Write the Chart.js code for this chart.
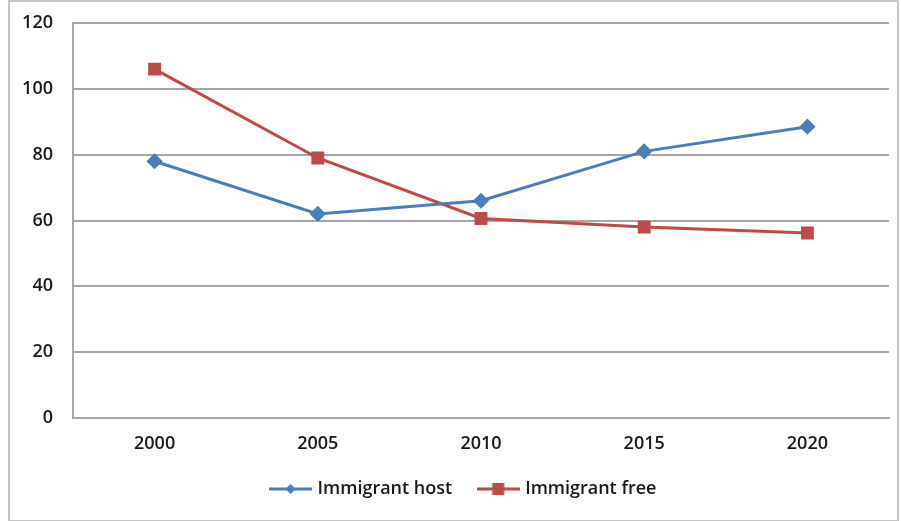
<!DOCTYPE html>
<html>
<head>
<meta charset="utf-8">
<script src="https://cdn.jsdelivr.net/npm/chart.js@4"></script>
<style>
  html, body { margin: 0; padding: 0; background: #fff; }
  #wrap { position: absolute; left: 0; top: 0; width: 901px; height: 521px; }
  #frame { position: absolute; left: 8px; top: 0px; width: 887px; height: 518px; border: 2px solid #c4c4c4; box-sizing: content-box; pointer-events: none; }
</style>
</head>
<body>
<div id="wrap">
  <canvas id="chart" width="901" height="521"></canvas>
  <div id="frame"></div>
</div>
<script>
var years = ["2000", "2005", "2010", "2015", "2020"];
var hostValues = [78, 62, 66, 81, 88.5];
var freeValues = [106, 79, 60.6, 58, 56.2];
var yTicks = [0, 20, 40, 60, 80, 100, 120];

var blue = "#4a7ebb";
var red = "#be4b48";
var textColor = "#1a1a1a";
var gridColor = "#a6a6a6";
var tickFont = { family: "'Open Sans', sans-serif", size: 18, weight: "600" };

// small line-with-marker icon for the legend
function legendIcon(color, shape) {
    var c = document.createElement("canvas");
    c.width = 43;
    c.height = 14;
    var ctx = c.getContext("2d");
    ctx.strokeStyle = color;
    ctx.lineWidth = 3;
    ctx.beginPath();
    ctx.moveTo(0, 7);
    ctx.lineTo(43, 7);
    ctx.stroke();
    ctx.fillStyle = color;
    if (shape == "diamond") {
        ctx.beginPath();
        ctx.moveTo(21.5, 2);
        ctx.lineTo(26.5, 7);
        ctx.lineTo(21.5, 12);
        ctx.lineTo(16.5, 7);
        ctx.closePath();
        ctx.fill();
    } else {
        ctx.fillRect(15.5, 1, 12, 12);
    }
    return c;
}

// legend sits a little right of the canvas centre
var legendShift = {
    id: "legendShift",
    afterLayout: function(chart) {
        chart.legend.left += 20;
        chart.legend.right += 20;
    }
};

var ctx = document.getElementById("chart").getContext("2d");
new Chart(ctx, {
    type: "line",
    data: {
        labels: years,
        datasets: [{
            label: "Immigrant host",
            data: hostValues,
            borderColor: blue,
            backgroundColor: blue,
            borderWidth: 3,
            pointStyle: "rectRot",
            pointRadius: 6,
            pointHoverRadius: 6,
            tension: 0
        }, {
            label: "Immigrant free",
            data: freeValues,
            borderColor: red,
            backgroundColor: red,
            borderWidth: 3,
            pointStyle: "rect",
            pointRadius: 7,
            pointHoverRadius: 7,
            tension: 0
        }]
    },
    plugins: [legendShift],
    options: {
        responsive: false,
        animation: false,
        layout: { padding: { left: 0, right: 12, top: 23, bottom: 13 } },
        plugins: {
            tooltip: { enabled: false },
            legend: {
                position: "bottom",
                labels: {
                    color: textColor,
                    font: tickFont,
                    usePointStyle: true,
                    pointStyleWidth: 36,
                    padding: 28,
                    generateLabels: function(chart) {
                        return chart.data.datasets.map(function(ds, i) {
                            return {
                                text: ds.label,
                                datasetIndex: i,
                                fontColor: textColor,
                                pointStyle: legendIcon(ds.borderColor, i == 0 ? "diamond" : "square"),
                                lineWidth: 0
                            };
                        });
                    }
                }
            }
        },
        scales: {
            x: {
                offset: true,
                grid: { display: false, drawTicks: false },
                border: { display: true, color: gridColor, width: 2 },
                ticks: { color: textColor, font: tickFont, padding: 15 },
                afterFit: function(scale) {
                    scale.height = 34;
                    scale.paddingLeft = 0;
                    scale.paddingRight = 0;
                }
            },
            y: {
                min: 0,
                max: 120,
                afterBuildTicks: function(scale) {
                    scale.ticks = yTicks.map(function(v) { return { value: v }; });
                },
                grid: { color: gridColor, lineWidth: 2, drawTicks: false },
                border: { display: true, color: gridColor, width: 2 },
                ticks: { color: textColor, font: tickFont, padding: 20 },
                afterFit: function(scale) {
                    scale.width = 73;
                    scale.paddingTop = 0;
                    scale.paddingBottom = 0;
                }
            }
        }
    }
});
</script>
</body>
</html>
